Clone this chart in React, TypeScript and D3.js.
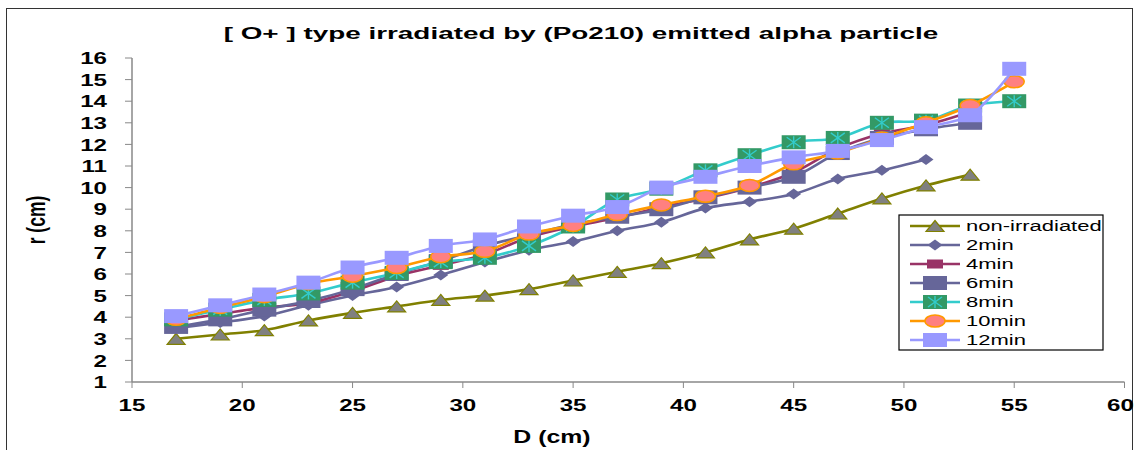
import React from "react";
import * as d3 from "d3";

const W = 1138;
const H = 450;

const distances = [17, 19, 21, 23, 25, 27, 29, 31, 33, 35, 37, 39, 41, 43, 45, 47, 49, 51, 53, 55];

const nonIrradiated = [3.0, 3.2, 3.4, 3.85, 4.2, 4.5, 4.8, 5.0, 5.3, 5.7, 6.1, 6.5, 7.0, 7.6, 8.1, 8.8, 9.5, 10.1, 10.6];
const min2 = [3.5, 3.75, 4.05, 4.55, 5.0, 5.4, 5.95, 6.55, 7.1, 7.5, 8.0, 8.4, 9.05, 9.35, 9.7, 10.4, 10.8, 11.3];
const min4 = [3.85, 4.15, 4.45, 4.65, 5.2, 5.9, 6.4, 6.9, 7.7, 8.2, 8.6, 9.1, 9.5, 10.0, 10.7, 11.8, 12.5, 12.9, 13.5];
const min6 = [3.55, 3.9, 4.35, 4.75, 5.3, 6.0, 6.6, 7.3, 7.8, 8.3, 8.65, 9.0, 9.55, 10.0, 10.5, 11.6, 12.3, 12.7, 13.0];
const min8 = [3.9, 4.35, 4.8, 5.1, 5.6, 6.05, 6.55, 6.75, 7.3, 8.2, 9.45, 9.95, 10.8, 11.5, 12.1, 12.3, 13.0, 13.1, 13.8, 14.0];
const min10 = [3.9, 4.45, 4.95, 5.55, 5.9, 6.3, 6.8, 7.05, 7.85, 8.25, 8.75, 9.2, 9.6, 10.1, 11.1, 11.6, 12.3, 13.0, 13.8, 14.9];
const min12 = [4.05, 4.55, 5.05, 5.6, 6.3, 6.75, 7.3, 7.6, 8.2, 8.7, 9.1, 10.0, 10.5, 11.0, 11.4, 11.7, 12.2, 12.8, 13.35, 15.5];

const seriesNames = ["non-irradiated", "2min", "4min", "6min", "8min", "10min", "12min"];
const xTicks = [15, 20, 25, 30, 35, 40, 45, 50, 55, 60];
const yTicks = [1, 2, 3, 4, 5, 6, 7, 8, 9, 10, 11, 12, 13, 14, 15, 16];

const titleText = "[ O+ ] type irradiated by (Po210) emitted alpha particle";
const xTitle = "D (cm)";
const yTitle = "r (cm)";

type Style = { line: string; marker: string; fill: string; stroke: string };
const styles: Style[] = [
  { line: "#808000", marker: "triangle", fill: "#808080", stroke: "#808000" },
  { line: "#666699", marker: "diamond", fill: "#666699", stroke: "#666699" },
  { line: "#993366", marker: "smallsquare", fill: "#993366", stroke: "#993366" },
  { line: "#666699", marker: "square", fill: "#666699", stroke: "#666699" },
  { line: "#33CCCC", marker: "star", fill: "#339966", stroke: "#33CCCC" },
  { line: "#FF9900", marker: "circle", fill: "#FF8080", stroke: "#FF9900" },
  { line: "#9999FF", marker: "square", fill: "#9999FF", stroke: "#9999FF" },
];

const allSeries = [nonIrradiated, min2, min4, min6, min8, min10, min12];

const SX = 1.42;
const FONT = "'Liberation Sans', Arial, sans-serif";

function Marker({ kind, x, y, st }: { kind: string; x: number; y: number; st: Style }) {
  if (kind === "triangle") {
    const w = 18, h = 11;
    return (
      <path
        d={`M${x},${y - h / 2}L${x + w / 2},${y + h / 2}L${x - w / 2},${y + h / 2}Z`}
        fill={st.fill}
        stroke={st.stroke}
        strokeWidth={1.2}
      />
    );
  }
  if (kind === "diamond") {
    const w = 15, h = 11;
    return <path d={`M${x},${y - h / 2}L${x + w / 2},${y}L${x},${y + h / 2}L${x - w / 2},${y}Z`} fill={st.fill} />;
  }
  if (kind === "smallsquare") {
    return <rect x={x - 8} y={y - 4.5} width={16} height={9} fill={st.fill} />;
  }
  if (kind === "square") {
    return <rect x={x - 12} y={y - 7} width={24} height={14} fill={st.fill} />;
  }
  if (kind === "star") {
    return (
      <g>
        <rect x={x - 12} y={y - 7} width={24} height={14} fill={st.fill} />
        <g stroke={st.stroke} strokeWidth={1.4}>
          <line x1={x} y1={y - 6} x2={x} y2={y + 6} />
          <line x1={x - 7} y1={y - 5} x2={x + 7} y2={y + 5} />
          <line x1={x - 7} y1={y + 5} x2={x + 7} y2={y - 5} />
        </g>
      </g>
    );
  }
  if (kind === "circle") {
    return <ellipse cx={x} cy={y} rx={10} ry={6} fill={st.fill} stroke={st.stroke} strokeWidth={1.5} />;
  }
  return null;
}

function SText({ x, y, children, size, weight, anchor, baseline, rotate, sx }: any) {
  const t = `translate(${x},${y}) scale(${sx || SX},1)${rotate ? ` rotate(${rotate})` : ""}`;
  return (
    <text
      transform={t}
      fontFamily={FONT}
      fontSize={size}
      fontWeight={weight}
      textAnchor={anchor}
      dominantBaseline={baseline}
      fill="#000"
    >
      {children}
    </text>
  );
}

export default function App() {
  const x = d3.scaleLinear().domain([15, 60]).range([132, 1124.5]);
  const y = d3.scaleLinear().domain([1, 16]).range([382, 58]);

  const line = d3
    .line<[number, number]>()
    .x((d) => x(d[0]))
    .y((d) => y(d[1]))
    .curve(d3.curveCatmullRom.alpha(0.5));

  const legendX = 899;
  const legendY = 215;
  const legendRowY = (i: number) => 226 + i * 19;

  return (
    <svg
      width={W}
      height={H}
      style={{ position: "absolute", left: 0, top: 0, background: "#fff" }}
    >
      <rect x={0} y={0} width={W} height={H} fill="#fff" />
      <rect x={6.5} y={8.5} width={1126} height={460} fill="none" stroke="#333" strokeWidth={1} />

      <SText x={581} y={39} size={17} weight="bold" anchor="middle" sx={1.64}>
        {titleText}
      </SText>

      {/* axes */}
      <line x1={132} y1={y(16)} x2={132} y2={y(1)} stroke="#888" strokeWidth={1.5} />
      <line x1={132} y1={y(1)} x2={x(60)} y2={y(1)} stroke="#888" strokeWidth={1.5} />
      {yTicks.map((t) => (
        <g key={"y" + t}>
          <line x1={125} x2={132} y1={y(t)} y2={y(t)} stroke="#888" strokeWidth={1} />
          <SText x={107} y={y(t)} size={17} weight="bold" anchor="end" baseline="central">
            {String(t)}
          </SText>
        </g>
      ))}
      {xTicks.map((t) => (
        <g key={"x" + t}>
          <line x1={x(t)} x2={x(t)} y1={y(1)} y2={y(1) + 6} stroke="#888" strokeWidth={1} />
          <SText x={t === 60 ? x(t) - 4 : x(t)} y={411} size={17} weight="bold" anchor="middle">
            {String(t)}
          </SText>
        </g>
      ))}

      <SText x={552} y={443} size={17.5} weight="bold" anchor="middle">
        {xTitle}
      </SText>
      <SText x={45} y={220} size={17.5} weight="bold" anchor="middle" rotate={-90}>
        {yTitle}
      </SText>

      {/* series */}
      {allSeries.map((vals, si) => {
        const st = styles[si];
        const pts: [number, number][] = vals.map((v, i) => [distances[i], v]);
        return (
          <g key={"s" + si}>
            <path d={line(pts) || ""} fill="none" stroke={st.line} strokeWidth={2.6} />
            {pts.map((p, i) => (
              <Marker key={i} kind={st.marker} x={x(p[0])} y={y(p[1])} st={st} />
            ))}
          </g>
        );
      })}

      {/* legend */}
      <rect x={legendX} y={legendY} width={204} height={135} fill="#fff" stroke="#000" strokeWidth={1.2} />
      {seriesNames.map((name, i) => {
        const st = styles[i];
        const ly = legendRowY(i);
        return (
          <g key={"l" + i}>
            <line x1={910} x2={960} y1={ly} y2={ly} stroke={st.line} strokeWidth={2.6} />
            <Marker kind={st.marker} x={935} y={ly} st={st} />
            <SText x={966} y={ly} size={15.5} weight="normal" anchor="start" baseline="central">
              {name}
            </SText>
          </g>
        );
      })}
    </svg>
  );
}
